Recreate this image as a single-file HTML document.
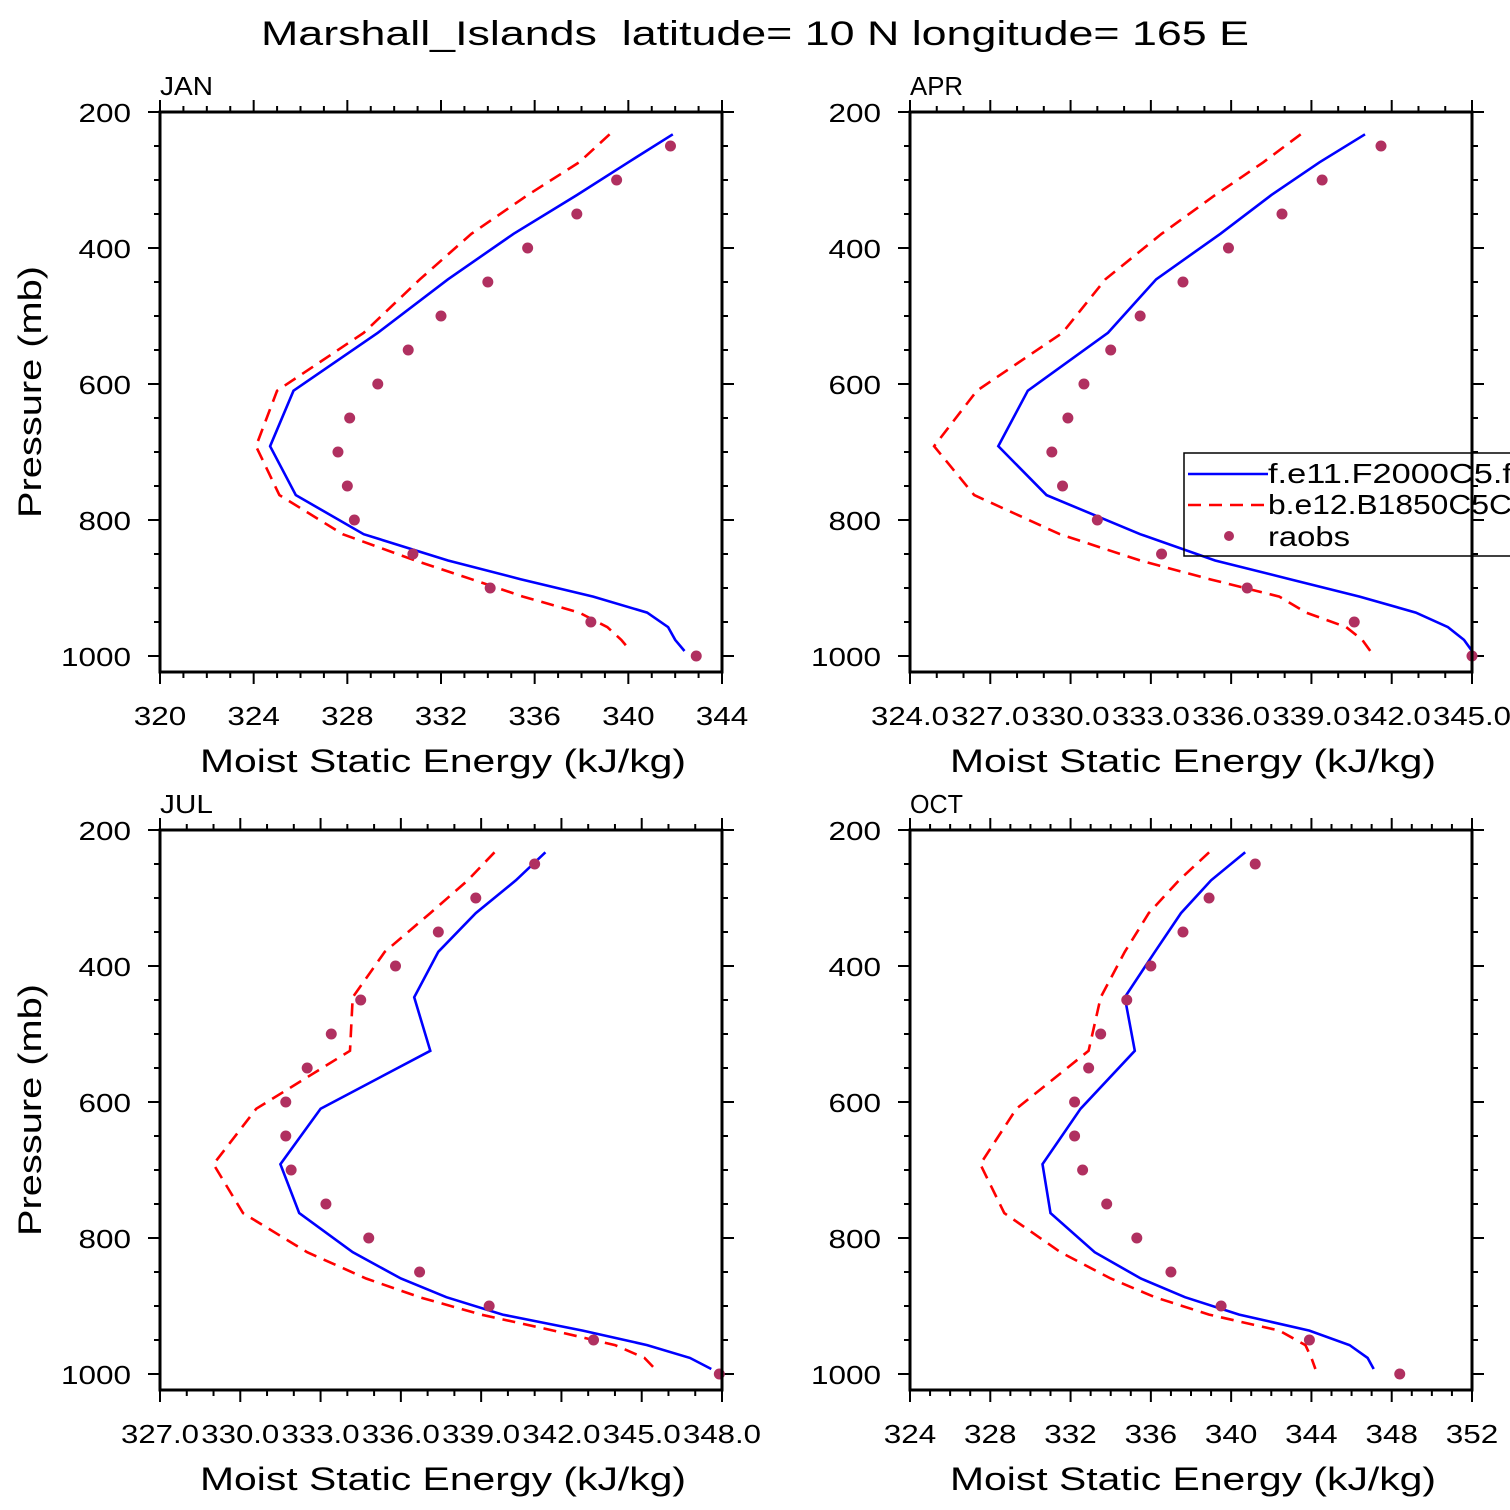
<!DOCTYPE html>
<html><head><meta charset="utf-8"><style>
html,body{margin:0;padding:0;background:#fff;}
svg{display:block;font-family:"Liberation Sans","DejaVu Sans",sans-serif;}
</style></head><body>
<svg id="chart" width="1510" height="1510" viewBox="0 0 1510 1510" xmlns="http://www.w3.org/2000/svg">
<rect width="1510" height="1510" fill="#fff"/>
<text x="755" y="45" font-size="34" text-anchor="middle" textLength="988" lengthAdjust="spacingAndGlyphs" xml:space="preserve">Marshall_Islands  latitude= 10 N longitude= 165 E</text>
</svg>
<script>
const modelLevels = [232.8,273.9,322.2,379.1,446.0,524.7,609.8,691.4,763.4,820.9,859.5,887.0,912.6,936.2,957.5,976.3,992.6];
const obsLevels = [250,300,350,400,450,500,550,600,650,700,750,800,850,900,950,1000];
const months = ["JAN","APR","JUL","OCT"];
const janBlue = [341.9,340.0,337.8,335.1,332.3,329.3,325.7,324.7,325.8,328.7,332.3,335.4,338.5,340.8,341.7,342.0,342.4];
const janRed  = [339.2,337.9,335.7,333.3,331.1,328.7,325.0,324.1,325.1,327.8,330.9,333.3,335.5,337.9,339.1,339.7,340.1];
const janObs  = [341.8,339.5,337.8,335.7,334.0,332.0,330.6,329.3,328.1,327.6,328.0,328.3,330.8,334.1,338.4,342.9];
const aprBlue = [341.0,339.3,337.5,335.6,333.2,331.4,328.4,327.3,329.1,332.6,335.4,338.2,340.8,342.9,344.1,344.7,345.0];
const aprRed  = [338.6,337.2,335.4,333.4,331.3,329.7,326.5,324.9,326.4,329.6,332.6,335.2,337.8,338.8,340.3,340.9,341.2];
const aprObs  = [341.6,339.4,337.9,335.9,334.2,332.6,331.5,330.5,329.9,329.3,329.7,331.0,333.4,336.6,340.6,345.0];
const julBlue = [341.4,340.3,338.8,337.4,336.5,337.1,333.0,331.5,332.2,334.2,336.0,337.7,339.8,342.8,345.2,346.8,347.6];
const julRed  = [339.5,338.5,337.1,335.4,334.2,334.1,330.6,329.0,330.1,332.5,334.7,336.7,339.0,341.7,344.0,345.1,345.5];
const julObs  = [341.0,338.8,337.4,335.8,334.5,333.4,332.5,331.7,331.7,331.9,333.2,334.8,336.7,339.3,343.2,347.9];
const octBlue = [340.7,339.0,337.5,336.2,334.7,335.2,332.5,330.6,331.0,333.2,335.5,337.7,340.4,343.9,345.9,346.8,347.1];
const octRed  = [338.9,337.4,335.9,334.7,333.5,332.9,329.3,327.5,328.7,331.5,334.0,336.2,338.9,342.4,343.7,344.0,344.2];
const octObs  = [341.2,338.9,337.6,336.0,334.8,333.5,332.9,332.2,332.2,332.6,333.8,335.3,337.0,339.5,343.9,348.4];
const xMins = [320,324,327,324];
const xMaxs = [344,345,348,352];
const xSteps = [4,3,3,4];
const xDecimals = [0,1,1,0];
const yTicks = [200,400,600,800,1000];

const svg = document.getElementById('chart');
const NS = 'http://www.w3.org/2000/svg';
function mk(tag, attrs, parent){
  const e = document.createElementNS(NS, tag);
  for (const k in attrs) e.setAttribute(k, attrs[k]);
  (parent||svg).appendChild(e);
  return e;
}
function labLen(s){ let n=0; for (const c of s) n += (c==='.') ? 8 : 17.5; return n; }
const boxes = [[160,112],[910,112],[160,830],[910,830]];
const W = 562, H = 560;
const blues=[janBlue,aprBlue,julBlue,octBlue], reds=[janRed,aprRed,julRed,octRed], obs=[janObs,aprObs,julObs,octObs];

for (let i=0;i<4;i++){
  const [L,T] = boxes[i];
  const g = mk('g',{});
  
  
  const xs = v => L + (v - xMins[i]) / (xMaxs[i]-xMins[i]) * W;
  const ys = p => T + (p - 200) * 0.68;
  const cp = mk('clipPath',{id:'clip'+i}, g);
  mk('rect',{x:L,y:T,width:W,height:H}, cp);
  for (let v = xMins[i]; v <= xMaxs[i]+1e-6; v += 1){
    const major = Math.abs(((v - xMins[i]) / xSteps[i]) - Math.round((v - xMins[i]) / xSteps[i])) < 1e-6;
    const len = major ? 12 : 6;
    const x = xs(v);
    mk('line',{x1:x,y1:T,x2:x,y2:T-len,stroke:'#000','stroke-width':2}, g);
    mk('line',{x1:x,y1:T+H,x2:x,y2:T+H+len,stroke:'#000','stroke-width':2}, g);
    if (major){
      const s = v.toFixed(xDecimals[i]);
      const t = mk('text',{x:x,y:T+H+53,'font-size':26,'text-anchor':'middle',textLength:labLen(s),lengthAdjust:'spacingAndGlyphs'}, g);
      
      
      t.textContent = s;
    }
  }
  for (let p = 200; p <= 1020; p += 50){
    const major = p % 200 === 0;
    const len = major ? 12 : 6;
    const y = ys(p);
    mk('line',{x1:L,y1:y,x2:L-len,y2:y,stroke:'#000','stroke-width':2}, g);
    mk('line',{x1:L+W,y1:y,x2:L+W+len,y2:y,stroke:'#000','stroke-width':2}, g);
  }
  yTicks.forEach(p=>{
    const s = String(p);
    const t = mk('text',{x:L-29,y:ys(p)+10,'font-size':26,'text-anchor':'end',textLength:labLen(s),lengthAdjust:'spacingAndGlyphs'}, g);
    
    
    t.textContent = s;
  });
  const pl = mk('text',{x:L,y:T-17,'font-size':26,textLength:53,lengthAdjust:'spacingAndGlyphs'}, g);
  
  
  pl.textContent = months[i];
  const xt = mk('text',{x:L+W/2+2,y:T+H+100,'font-size':32,'text-anchor':'middle',textLength:486,lengthAdjust:'spacingAndGlyphs'}, g);
  
  
  xt.textContent = 'Moist Static Energy (kJ/kg)';
  if (i%2===0){
    const cy = T + 280;
    const yt = mk('text',{x:0,y:0,'font-size':32,'text-anchor':'middle',textLength:252,lengthAdjust:'spacingAndGlyphs',transform:`translate(41,${cy}) rotate(-90)`}, g);
    
    
    yt.textContent = 'Pressure (mb)';
  }
  const dg = mk('g',{'clip-path':`url(#clip${i})`}, g);
  const lineD = arr => arr.map((v,k)=>(k?'L':'M')+xs(v).toFixed(1)+','+ys(modelLevels[k]).toFixed(1)).join(' ');
  const red = mk('path',{d:lineD(reds[i]),fill:'none',stroke:'#ff0000','stroke-width':2.6,'stroke-dasharray':'13 8'}, dg);
  
  
  const blue = mk('path',{d:lineD(blues[i]),fill:'none',stroke:'#0000ff','stroke-width':2.6}, dg);
  
  
  obs[i].forEach((v,k)=>{
    const c = mk('circle',{cx:xs(v),cy:ys(obsLevels[k]),r:5.5,fill:'#b03060'}, g);
    
    
  });
  const frame = mk('rect',{x:L,y:T,width:W,height:H,fill:'none',stroke:'#000','stroke-width':3}, g);
  
  
}
const lg = mk('g',{});


mk('rect',{x:1184,y:453,width:340,height:103,fill:'none',stroke:'#000','stroke-width':1.5}, lg);
mk('line',{x1:1188,y1:474,x2:1268,y2:474,stroke:'#0000ff','stroke-width':2.6}, lg);
mk('line',{x1:1188,y1:505,x2:1268,y2:505,stroke:'#ff0000','stroke-width':2.6,'stroke-dasharray':'13 8'}, lg);
mk('circle',{cx:1229,cy:536,r:5,fill:'#b03060'}, lg);
const lt = [['f.e11.F2000C5.f09f09',483,330],['b.e12.B1850C5CN.f09',514,320],['raobs',546,82]];
lt.forEach(([s,y,w])=>{
  const t = mk('text',{x:1268,y:y,'font-size':28,textLength:w,lengthAdjust:'spacingAndGlyphs'}, lg);
  
  
  t.textContent = s;
});
</script>
</body></html>
